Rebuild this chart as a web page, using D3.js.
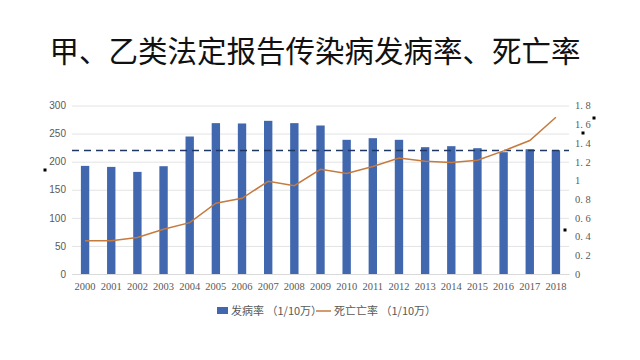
<!DOCTYPE html>
<html><head><meta charset="utf-8">
<script src="https://cdn.jsdelivr.net/npm/d3@7"></script>
<style>body{margin:0;background:#fff}svg{display:block}</style>
</head><body>
<svg id="c" width="640" height="360"></svg>
<script>
const years = ["2000","2001","2002","2003","2004","2005","2006","2007","2008","2009","2010","2011","2012","2013","2014","2015","2016","2017","2018"];
const incidence = [192.5,190.7,181.8,191.9,244.8,268.6,268,272.7,268.6,264.4,238.9,241.8,238.9,225.8,227.6,224,216.9,222.2,220.4];
const mortality = [0.356,0.356,0.39,0.478,0.549,0.756,0.809,0.99,0.944,1.119,1.073,1.148,1.24,1.205,1.19,1.215,1.315,1.426,1.675];
const refLine = 220;
const leftTicks = [0,50,100,150,200,250,300];
const rightTicks = [0,0.2,0.4,0.6,0.8,1,1.2,1.4,1.6,1.8];
const title = "甲、乙类法定报告传染病发病率、死亡率";
const legendLabels = ["发病率 （1/10万）","死亡亡率 （1/10万）"];
const marks = [[45,170],[594,118],[583,133],[565,230]];

const svg = d3.select("#c");
const L=72, R=569, T=105.5, B=274;
const x = d3.scaleBand().domain(years).range([L,R]).paddingInner(0.68).paddingOuter(0.34);
const yL = d3.scaleLinear().domain([0,300]).range([B,T]);
const yR = d3.scaleLinear().domain([0,1.8]).range([B,T]);

svg.append("text").attr("x",315).attr("y",62).attr("text-anchor","middle")
  .attr("font-family","Noto Sans CJK SC").attr("font-weight",400).attr("font-size",29.5).attr("fill","#111").text(title);

// grid
svg.append("g").selectAll("line").data(leftTicks).join("line")
  .attr("x1",L).attr("x2",R).attr("y1",d=>yL(d)+0.5).attr("y2",d=>yL(d)+0.5)
  .attr("stroke","#e3e3e3").attr("stroke-width",1);

// left axis
const gl = svg.append("g").attr("transform",`translate(${L},0)`)
  .call(d3.axisLeft(yL).tickValues(leftTicks).tickSize(0).tickPadding(6));
gl.select(".domain").remove();
gl.selectAll("text").attr("font-family","Liberation Sans").attr("font-size",10).attr("fill","#595959");

// right axis
const gr = svg.append("g").attr("transform",`translate(${R},0)`)
  .call(d3.axisRight(yR).tickValues(rightTicks).tickSize(0).tickPadding(6).tickFormat(d=>d===0||d===1?String(d):d3.format(".1f")(d).replace(".",". ")));
gr.select(".domain").remove();
gr.selectAll("text").attr("font-family","Liberation Serif").attr("font-size",10.5).attr("fill","#595959");

// bars
svg.append("g").selectAll("rect").data(years).join("rect")
  .attr("x",d=>x(d)).attr("width",x.bandwidth())
  .attr("y",(d,i)=>yL(incidence[i])).attr("height",(d,i)=>B-yL(incidence[i]))
  .attr("fill","#4168ae");

// x axis labels
const gx = svg.append("g").attr("transform",`translate(0,${B})`)
  .call(d3.axisBottom(x).tickSize(0).tickPadding(9));
gx.select(".domain").attr("stroke","#d9d9d9");
gx.selectAll("text").attr("font-family","Liberation Serif").attr("font-size",10.5).attr("fill","#595959");

// dashed reference
svg.append("line").attr("x1",L).attr("x2",R).attr("y1",yL(refLine)).attr("y2",yL(refLine))
  .attr("stroke","#203864").attr("stroke-width",1.5).attr("stroke-dasharray","7,5");

// mortality line
const line = d3.line().x((d,i)=>x(years[i])+x.bandwidth()/2).y(d=>yR(d));
svg.append("path").datum(mortality).attr("d",line).attr("fill","none")
  .attr("stroke","#c57a3e").attr("stroke-width",1.5);

// legend
const lg = svg.append("g").attr("font-family","Noto Sans CJK SC").attr("font-size",11).attr("fill","#595959");
lg.append("rect").attr("x",217).attr("y",307).attr("width",11).attr("height",7).attr("fill","#4168ae");
lg.append("text").attr("x",231).attr("y",315).text(legendLabels[0]);
lg.append("line").attr("x1",316).attr("x2",331).attr("y1",311).attr("y2",311).attr("stroke","#c57a3e").attr("stroke-width",1.5);
lg.append("text").attr("x",334).attr("y",315).text(legendLabels[1]);

// stray marks
svg.append("g").selectAll("rect").data(marks).join("rect")
  .attr("x",d=>d[0]-1.5).attr("y",d=>d[1]-1.5).attr("width",3).attr("height",3).attr("fill","#000");
</script>
</body></html>
